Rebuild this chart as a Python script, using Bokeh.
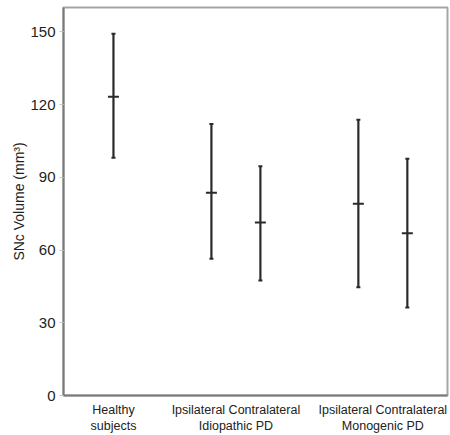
from bokeh.plotting import figure
from bokeh.models import Range1d, LinearAxis, FixedTicker, ColumnDataSource
from bokeh.embed import file_html
from bokeh.resources import INLINE

# Data (SNc volume, mm^3)
conditions = ["Healthy subjects", "Idiopathic PD Ipsilateral", "Idiopathic PD Contralateral",
              "Monogenic PD Ipsilateral", "Monogenic PD Contralateral"]
means = [123.2, 83.6, 71.3, 79.1, 66.9]
upper = [149.2, 112.0, 94.5, 113.7, 97.6]
lower = [98.0, 56.4, 47.4, 44.6, 36.3]
yticks = [0, 30, 60, 90, 120, 150]
label_row1 = ["Healthy", "Ipsilateral Contralateral", "Ipsilateral Contralateral"]
label_row2 = ["subjects", "Idiopathic PD", "Monogenic PD"]

# layout positions: 2 units between groups, 1 unit between sides within a group
xpos = [0, 2, 3, 5, 6]
group_centers = [0, 2.5, 5.5]

FONT = "Liberation Sans"
COL = "#2a2a2a"
TXT = "#222222"

p = figure(width=450, height=435, output_backend="svg", toolbar_location=None,
           x_range=Range1d(-1.02, 6.82), y_range=Range1d(0, 160),
           min_border_left=63, min_border_top=7, min_border_right=3, min_border_bottom=40)
p.xaxis.visible = False
p.xgrid.visible = False
p.ygrid.visible = False
p.outline_line_color = "#a5a5a5"
p.outline_line_width = 2

src = ColumnDataSource(dict(x=xpos, m=means, u=upper, l=lower))
p.segment(x0="x", y0="l", x1="x", y1="u", source=src, line_color=COL, line_width=2.2)
p.scatter(x="x", y="m", source=src, marker="dash", size=11, line_color=COL, line_width=2)
p.scatter(x="x", y="u", source=src, marker="dash", size=4, line_color=COL, line_width=2)
p.scatter(x="x", y="l", source=src, marker="dash", size=4, line_color=COL, line_width=2)

ya = p.yaxis[0]
ya.ticker = FixedTicker(ticks=yticks)
ya.axis_line_color = "#7a7a7a"
ya.axis_line_width = 2
ya.major_tick_line_color = "#c8c8c8"
ya.major_tick_out = 4
ya.major_tick_in = 0
ya.minor_tick_line_color = None
ya.major_label_text_font = FONT
ya.major_label_text_font_size = "15px"
ya.major_label_text_color = TXT
ya.major_label_standoff = 4
ya.axis_label = "SNc Volume (mm³)"
ya.axis_label_text_font = FONT
ya.axis_label_text_font_style = "normal"
ya.axis_label_text_font_size = "14px"
ya.axis_label_text_color = TXT
ya.axis_label_standoff = 0

xlabels = {x: a + "\n" + b for x, a, b in zip(group_centers, label_row1, label_row2)}
ax1 = LinearAxis(ticker=FixedTicker(ticks=group_centers), major_label_overrides=xlabels)
ax1.major_tick_line_color = None
ax1.major_tick_out = 0
ax1.major_tick_in = 0
ax1.minor_tick_line_color = None
ax1.minor_tick_out = 0
ax1.major_label_text_font = FONT
ax1.major_label_text_font_size = "12.5px"
ax1.major_label_text_color = TXT
ax1.major_label_text_line_height = 1.15
ax1.axis_line_color = "#7a7a7a"
ax1.axis_line_width = 2
ax1.major_label_standoff = 7
p.add_layout(ax1, "below")

open("out.html", "w").write(file_html(p, INLINE))
